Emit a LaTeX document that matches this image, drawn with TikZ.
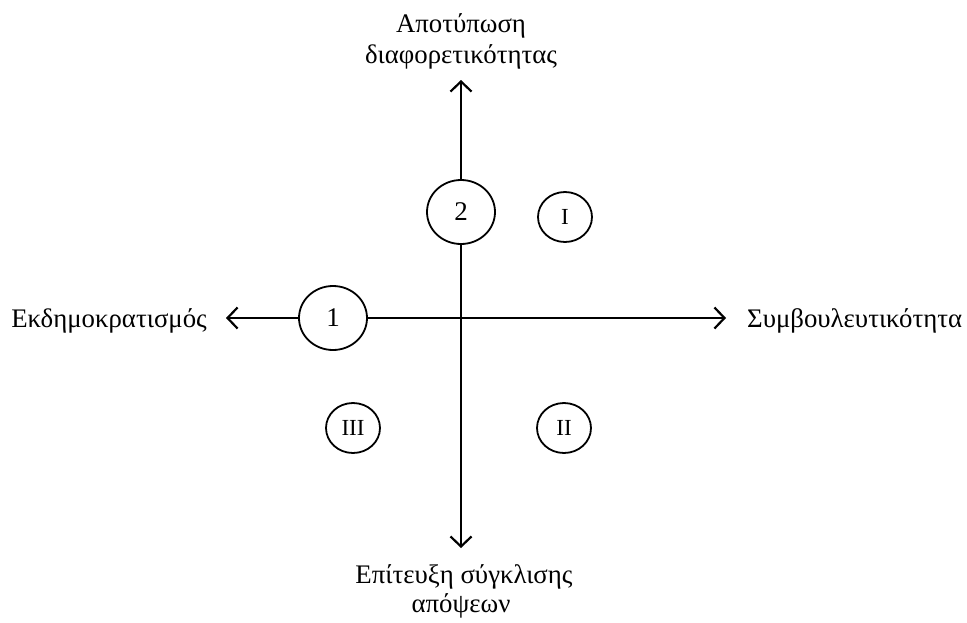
\documentclass[tikz,border=0pt]{standalone}
\usepackage{fontspec}
\setmainfont{Liberation Serif}
\usetikzlibrary{arrows.meta,shapes.geometric}
\begin{document}
\begin{tikzpicture}[x=1pt,y=-1pt,
  axis/.style={line width=2.2pt,-{Straight Barb[length=10pt,width=21pt,line width=2.2pt]}},
  bigc/.style={ellipse,draw,line width=1.8pt,fill=white,minimum width=68pt,minimum height=64pt,inner sep=0pt,font=\fontsize{27}{30}\selectfont},
  smallc/.style={ellipse,draw,line width=1.8pt,fill=white,minimum width=54pt,minimum height=50pt,inner sep=0pt,font=\fontsize{23}{25}\selectfont},
  lbl/.style={font=\fontsize{26.8}{31}\selectfont,inner sep=0pt}]
\useasboundingbox (0,0) rectangle (967,622);
\coordinate (top) at (461,80);
\coordinate (bot) at (461,548);
\coordinate (left) at (226,318);
\coordinate (right) at (726,318);
\node[bigc] (c1) at (333,318) {1};
\node[bigc] (c2) at (461,212) {2};
\node[smallc] (cI) at (565,217) {I};
\node[smallc] (cII) at (564,428) {II};
\node[smallc] (cIII) at (353,428) {III};
\draw[axis] (c2.north) -- (top);
\draw[axis] (c2.south) -- (bot);
\draw[axis] (c1.west) -- (left);
\draw[axis] (c1.east) -- (right);
\node[lbl,anchor=base] (ltop1) at (461,32) {Αποτύπωση};
\node[lbl,anchor=base] (ltop2) at (461,63) {διαφορετικότητας};
\node[lbl,anchor=base] (lbot1) at (464,583) {Επίτευξη σύγκλισης};
\node[lbl,anchor=base] (lbot2) at (461,612) {απόψεων};
\node[lbl,anchor=base east] (lleft) at (207,327) {Εκδημοκρατισμός};
\node[lbl,anchor=base west] (lright) at (747,327) {Συμβουλευτικότητα};
\end{tikzpicture}
\end{document}
